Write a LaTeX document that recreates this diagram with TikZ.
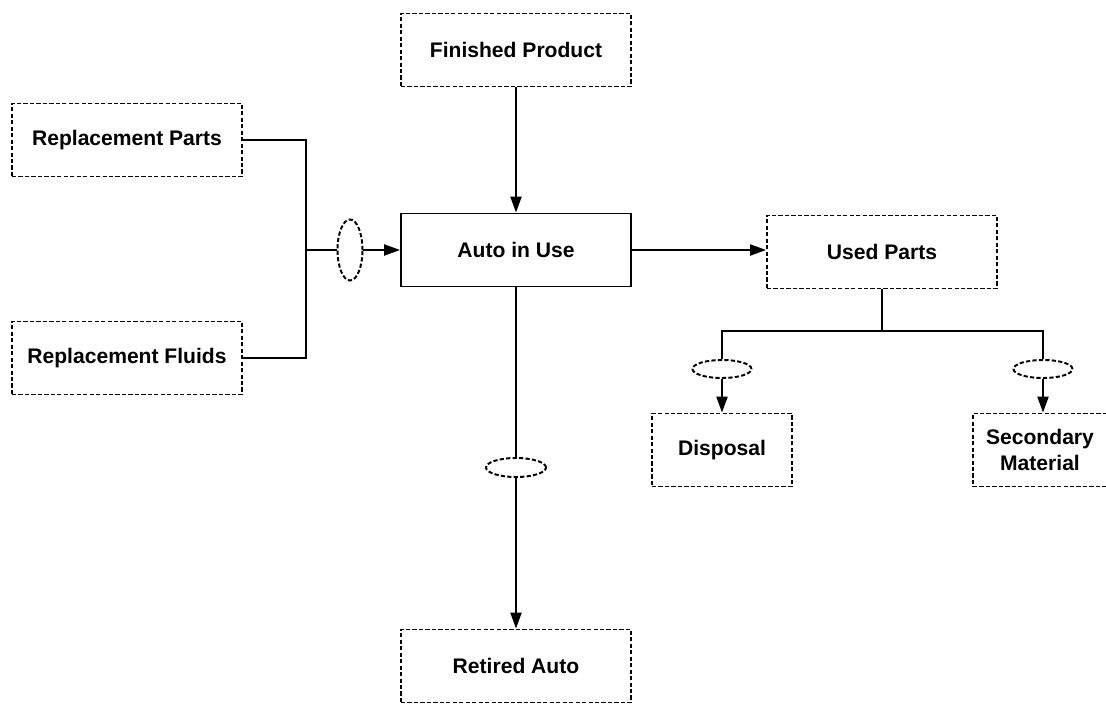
\documentclass[tikz,border=0pt]{standalone}
\usepackage{fontspec}
\setmainfont{Liberation Sans}
\usetikzlibrary{arrows.meta,positioning,shapes.geometric}

\begin{document}
\begin{tikzpicture}[
    flowbox/.style={draw, dash pattern=on 3pt off 1.6pt, line width=1.4pt, minimum width=5.75cm, minimum height=1.825cm, align=center, font=\fontsize{15}{18}\selectfont\bfseries},
    mainbox/.style={flowbox, solid},
    smallbox/.style={flowbox, minimum width=3.5cm},
    ring/.style={draw, ellipse, dash pattern=on 3pt off 1.6pt, line width=1.4pt, inner sep=0pt},
    link/.style={line width=1.2pt},
    arr/.style={link, -{Triangle[length=0.4cm, width=0.28cm]}}
  ]
  \useasboundingbox (0,0) rectangle (27.65,17.6);
  % Boxes
  \node[flowbox] (rparts) at (3.175,14.1) {Replacement Parts};
  \node[flowbox] (rfluids) at (3.175,8.65) {Replacement Fluids};
  \node[flowbox] (finished) at (12.9,16.35) {Finished Product};
  \node[mainbox] (auto) at (12.9,11.35) {Auto in Use};
  \node[flowbox] (used) at (22.05,11.3) {Used Parts};
  \node[smallbox] (disposal) at (18.05,6.35) {Disposal};
  \node[smallbox, minimum width=3.35cm] (secondary) at (26.0,6.35) {Secondary\\Material};
  \node[flowbox] (retired) at (12.9,0.95) {Retired Auto};
  % Ellipses
  \node[ring, minimum width=0.625cm, minimum height=1.525cm] (ein) at (8.75,11.35) {};
  \node[ring, minimum width=1.475cm, minimum height=0.45cm] (edisp) at (18.05,8.375) {};
  \node[ring, minimum width=1.475cm, minimum height=0.45cm] (esec) at (26.075,8.375) {};
  \node[ring, minimum width=1.5cm, minimum height=0.475cm] (eret) at (12.9,5.9125) {};
  % Inputs to auto in use
  \coordinate (join) at (7.65,11.35);
  \draw[link] (rparts.east) -| (join) |- (rfluids.east);
  \draw[link] (join) -- (ein);
  \draw[arr] (ein) -- (auto);
  \draw[arr] (finished) -- (auto);
  % Used parts branch
  \draw[arr] (auto) -- (used.west |- auto);
  \coordinate (split) at (22.05,9.325);
  \draw[link] (used) -- (split);
  \draw[link] (edisp.north) |- (split) -| (esec.north);
  \draw[arr] (edisp) -- (disposal);
  \draw[arr] (esec.south) -- (esec.south |- secondary.north);
  % Retired auto
  \draw[link] (auto) -- (eret);
  \draw[arr] (eret) -- (retired);
\end{tikzpicture}
\end{document}
